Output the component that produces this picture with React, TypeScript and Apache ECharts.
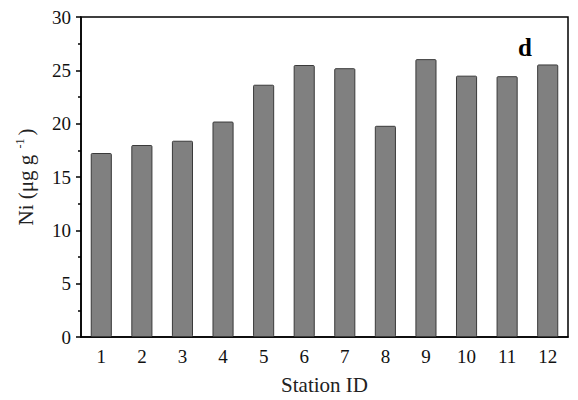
import React, { useEffect, useRef } from "react";
import * as echarts from "echarts";

// Station identifiers along the x axis
const stations = ["1", "2", "3", "4", "5", "6", "7", "8", "9", "10", "11", "12"];
// Ni concentration per station (µg g-1)
const niValues = [17.25, 18.0, 18.4, 20.2, 23.65, 25.5, 25.2, 19.8, 26.05, 24.5, 24.45, 25.55];

const FONT = "Liberation Serif";

export default function App() {
  const ref = useRef<HTMLDivElement>(null);

  useEffect(() => {
    if (!ref.current) return;
    const chart = echarts.init(ref.current, undefined, { renderer: "svg" });
    chart.setOption({
      animation: false,
      backgroundColor: "#fff",
      title: {
        text: "d",
        left: 513,
        top: 30,
        textStyle: { fontFamily: FONT, fontSize: 25, fontWeight: "bold", color: "#000" },
      },
      grid: {
        left: 81,
        right: 10,
        top: 17,
        bottom: 63,
        outerBoundsMode: "none",
        containLabel: false,
        show: true,
        borderColor: "#000",
        borderWidth: 1.5,
        backgroundColor: "transparent",
      },
      xAxis: [
        {
          type: "category",
          data: stations,
          name: "Station ID",
          nameLocation: "middle",
          nameGap: 37,
          nameTextStyle: { fontFamily: FONT, fontSize: 21, color: "#222" },
          axisLine: { lineStyle: { color: "#000", width: 1.5 } },
          axisTick: { alignWithLabel: true, length: 6, lineStyle: { color: "#000", width: 1.5 } },
          axisLabel: { fontFamily: FONT, fontSize: 19, color: "#111", margin: 10 },
          splitLine: { show: false },
        },
        {
          // boundary minor ticks between stations
          type: "category",
          data: stations,
          position: "bottom",
          axisLine: { show: false },
          axisTick: { alignWithLabel: false, length: 3, lineStyle: { color: "#000", width: 1.5 } },
          axisLabel: { show: false },
          splitLine: { show: false },
        },
      ],
      yAxis: {
        type: "value",
        min: 0,
        max: 30,
        interval: 5,
        name: "{a|Ni (μg g }{sup|-1}{a|)}",
        nameLocation: "middle",
        nameRotate: 90,
        nameGap: 43,
        nameTextStyle: {
          fontFamily: FONT,
          fontSize: 21,
          color: "#222",
          rich: {
            a: { fontFamily: FONT, fontSize: 21, color: "#222", lineHeight: 24 },
            sup: {
              fontFamily: FONT,
              fontSize: 12,
              color: "#222",
              verticalAlign: "top",
              lineHeight: 24,
              padding: [0, 3, 9, 1],
            },
          },
        },
        axisLine: { show: true, lineStyle: { color: "#000", width: 1.5 } },
        axisTick: { show: true, length: 5, lineStyle: { color: "#000", width: 1.5 } },
        minorTick: { show: true, splitNumber: 2, length: 3, lineStyle: { color: "#000", width: 1.5 } },
        axisLabel: { fontFamily: FONT, fontSize: 19, color: "#111", margin: 10 },
        splitLine: { show: false },
      },
      series: [
        {
          type: "bar",
          data: niValues,
          barWidth: "52%",
          itemStyle: { color: "#808080", borderColor: "#3a3a3a", borderWidth: 1, borderRadius: 1 },
        },
      ],
    });
    return () => chart.dispose();
  }, []);

  return <div ref={ref} style={{ width: 578, height: 400, margin: -8 }} />;
}
